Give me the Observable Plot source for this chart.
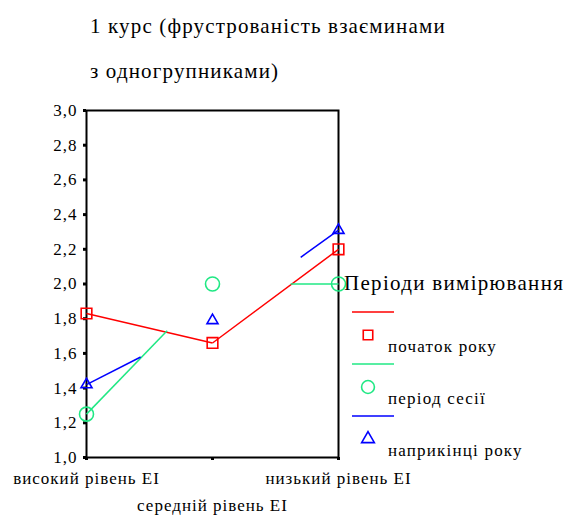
<!DOCTYPE html>
<html>
<head>
<meta charset="utf-8">
<script src="https://cdn.jsdelivr.net/npm/d3@7"></script>
<script src="https://cdn.jsdelivr.net/npm/@observablehq/plot@0.6"></script>
<style>
  html, body { margin: 0; padding: 0; background: #fff; }
  #wrap { position: relative; width: 566px; height: 517px; font-family: "Liberation Serif", "DejaVu Serif", serif; color: #000; }
  #overlay { position: absolute; left: 0; top: 0; }
</style>
</head>
<body>
<div id="wrap"></div>
<script>
// ---- data ----
const titleLines = ["1 курс (фрустрованість взаєминами", "з одногрупниками)"];
const categories = ["високий рівень ЕІ", "середній рівень ЕІ", "низький рівень ЕІ"];
const seriesNames = ["початок року", "період сесії", "наприкінці року"];
const startOfYear = [1.83, 1.66, 2.20];
const sessionPeriod = [1.25, 2.00, 2.00];
const endOfYear = [1.42, 1.79, 2.31];
const yTicks = [1.0, 1.2, 1.4, 1.6, 1.8, 2.0, 2.2, 2.4, 2.6, 2.8, 3.0];
const legendTitle = "Періоди вимірювання";
// visible fraction of each line segment (the original rendering drops parts of lines)
const visibleSpans = {
  "початок року": [[0, 1], [0, 1]],
  "період сесії": [[0, 0.64], [0.62, 1]],
  "наприкінці року": [[0, 0.43], [0.70, 1]]
};

const colors = ["#ff0000", "#20e884", "#0000ff"];
const symbols = ["square", "circle", "triangle"];
const radii = [6.0, 7, 4.1];
const valuesList = [startOfYear, sessionPeriod, endOfYear];

const series = seriesNames.map((name, s) => ({
  name, color: colors[s], symbol: symbols[s], r: radii[s],
  points: valuesList[s].map((v, i) => ({x: i, y: v, name}))
}));

const segments = [];
series.forEach(se => {
  for (let i = 0; i < se.points.length - 1; i++) {
    const a = se.points[i], b = se.points[i + 1];
    const [t0, t1] = visibleSpans[se.name][i];
    segments.push({
      name: se.name, color: se.color,
      x1: a.x + t0 * (b.x - a.x), y1: a.y + t0 * (b.y - a.y),
      x2: a.x + t1 * (b.x - a.x), y2: a.y + t1 * (b.y - a.y)
    });
  }
});

const fmt = d => d.toFixed(1).replace(".", ",");

const chart = Plot.plot({
  width: 566,
  height: 517,
  marginLeft: 86,
  marginRight: 228,
  marginTop: 110,
  marginBottom: 60,
  style: {fontFamily: "'Liberation Serif', serif", fontSize: "17px", color: "#000", background: "transparent", letterSpacing: "1px"},
  x: {type: "linear", domain: [0, 2]},
  y: {domain: [1, 3]},
  marks: [
    Plot.axisY({ticks: yTicks, tickFormat: fmt, tickSize: 3, tickPadding: 6, strokeWidth: 3, stroke: "#000", fill: "#000", fontSize: 17, label: null}),
    Plot.axisX({ticks: [0, 1, 2], tickFormat: () => "", tickSize: 3, strokeWidth: 3, stroke: "#000", label: null}),
    Plot.axisX({ticks: [0, 2], tickFormat: i => categories[i], tickSize: 0, tickPadding: 14, fill: "#000", fontSize: 17, label: null}),
    Plot.axisX({ticks: [1], tickFormat: i => categories[i], tickSize: 0, tickPadding: 41, fill: "#000", fontSize: 17, label: null}),
    Plot.frame({stroke: "#000", strokeWidth: 2}),
    Plot.link(segments, {x1: "x1", y1: "y1", x2: "x2", y2: "y2", stroke: d => d.color, strokeWidth: 1.5}),
    ...series.map(se => Plot.dot(se.points, {x: "x", y: "y", symbol: se.symbol, r: se.r, stroke: se.color, strokeWidth: 1.6, fill: "none"}))
  ]
});
chart.style.position = "absolute";
chart.style.left = "0px";
chart.style.top = "0px";
document.getElementById("wrap").appendChild(chart);

// ---- title + legend overlay ----
const ov = d3.select("#wrap").append("svg")
  .attr("id", "overlay").attr("width", 566).attr("height", 517)
  .style("font-family", "'Liberation Serif', serif");
titleLines.forEach((t, i) => {
  ov.append("text").attr("x", 90).attr("y", 33 + i * 45)
    .attr("font-size", 21).attr("letter-spacing", "1.15px").text(t);
});
ov.append("text").attr("x", 344).attr("y", 290).attr("font-size", 21)
  .attr("letter-spacing", "1.3px").text(legendTitle);
const legendSizes = [90, 130, 70];
series.forEach((se, s) => {
  const y0 = 312 + s * 52;
  ov.append("line").attr("x1", 352).attr("x2", 394).attr("y1", y0).attr("y2", y0)
    .attr("stroke", se.color).attr("stroke-width", 1.6);
  const sym = {square: d3.symbolSquare, circle: d3.symbolCircle, triangle: d3.symbolTriangle}[se.symbol];
  ov.append("path").attr("d", d3.symbol(sym, legendSizes[s])())
    .attr("transform", `translate(368,${y0 + 23})`)
    .attr("fill", "none").attr("stroke", se.color).attr("stroke-width", 1.6);
  ov.append("text").attr("x", 388).attr("y", y0 + 40).attr("font-size", 17)
    .attr("letter-spacing", "1.2px").text(se.name);
});
</script>
</body>
</html>
